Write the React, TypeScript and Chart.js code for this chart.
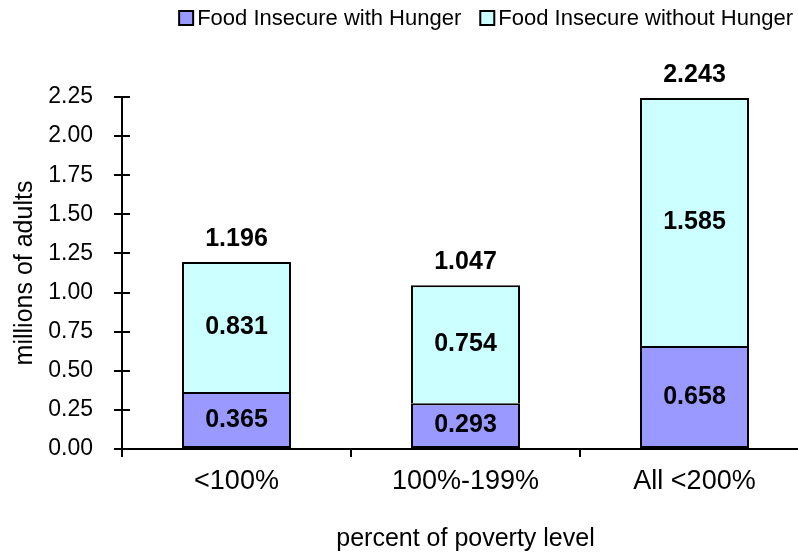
import React, { useEffect, useRef } from "react";
import { Chart, registerables } from "chart.js";

Chart.register(...registerables);

const categories = ["<100%", "100%-199%", "All <200%"];
const withHunger = [0.365, 0.293, 0.658];
const withoutHunger = [0.831, 0.754, 1.585];
const totals = [1.196, 1.047, 2.243];
const seriesNames = ["Food Insecure with Hunger", "Food Insecure without Hunger"];
const seriesColors = ["#9999FF", "#CCFFFF"];
const yMin = 0;
const yMax = 2.25;
const yStep = 0.25;

const FONT = "'Liberation Sans', Arial, Helvetica, sans-serif";

const innerTicksPlugin = {
  id: "innerTicks",
  afterDraw(chart: any) {
    const { ctx } = chart;
    const y = chart.scales.y;
    ctx.save();
    ctx.strokeStyle = "#000";
    ctx.lineWidth = 2;
    y.ticks.forEach((t: any) => {
      const py = Math.round(y.getPixelForValue(t.value));
      ctx.beginPath();
      ctx.moveTo(y.right, py);
      ctx.lineTo(y.right + 8, py);
      ctx.stroke();
    });
    ctx.restore();
  },
};

const labelsPlugin = {
  id: "valueLabels",
  afterDatasetsDraw(chart: any) {
    const { ctx } = chart;
    ctx.save();
    ctx.font = `bold 25px ${FONT}`;
    ctx.fillStyle = "#000";
    ctx.textAlign = "center";
    ctx.textBaseline = "middle";
    chart.data.datasets.forEach((ds: any, di: number) => {
      const meta = chart.getDatasetMeta(di);
      meta.data.forEach((bar: any, i: number) => {
        const v = ds.data[i];
        const cy = (bar.y + bar.base) / 2;
        ctx.fillText(Number(v).toFixed(3), bar.x, cy);
      });
    });
    const topMeta = chart.getDatasetMeta(chart.data.datasets.length - 1);
    topMeta.data.forEach((bar: any, i: number) => {
      ctx.fillText(totals[i].toFixed(3), bar.x, bar.y - 23);
    });
    ctx.restore();
  },
};

const legendPlugin = {
  id: "customLegend",
  afterDraw(chart: any) {
    const { ctx } = chart;
    ctx.save();
    ctx.font = `22px ${FONT}`;
    const box = 14;
    const gapBoxText = 4;
    const gapItems = 19;
    const widths = seriesNames.map((n) => ctx.measureText(n).width);
    const total =
      widths.reduce((a, b) => a + b, 0) +
      seriesNames.length * (box + gapBoxText) +
      gapItems * (seriesNames.length - 1);
    let x = 793 - total;
    const cy = 18;
    ctx.textBaseline = "middle";
    ctx.textAlign = "left";
    seriesNames.forEach((n, i) => {
      ctx.fillStyle = seriesColors[i];
      ctx.fillRect(x, cy - box / 2, box, box);
      ctx.strokeStyle = "#000";
      ctx.lineWidth = 2;
      ctx.strokeRect(x, cy - box / 2, box, box);
      ctx.fillStyle = "#000";
      ctx.fillText(n, x + box + gapBoxText, cy + 1);
      x += box + gapBoxText + widths[i] + gapItems;
    });
    ctx.restore();
  },
};

export default function App() {
  const ref = useRef<HTMLCanvasElement | null>(null);

  useEffect(() => {
    if (!ref.current) return;
    const chart = new Chart(ref.current, {
      type: "bar",
      data: {
        labels: categories,
        datasets: [
          {
            label: seriesNames[0],
            data: withHunger,
            backgroundColor: seriesColors[0],
            borderColor: "#000",
            borderWidth: 2,
            borderSkipped: false,
          },
          {
            label: seriesNames[1],
            data: withoutHunger,
            backgroundColor: seriesColors[1],
            borderColor: "#000",
            borderWidth: 2,
            borderSkipped: "bottom",
          },
        ],
      },
      options: {
        responsive: false,
        animation: false,
        devicePixelRatio: 1,
        layout: { padding: { top: 97, right: 3, bottom: 0, left: 0 } },
        datasets: {
          bar: { categoryPercentage: 1, barPercentage: 0.476 },
        },
        plugins: {
          legend: { display: false },
          tooltip: { enabled: false },
        },
        scales: {
          x: {
            stacked: true,
            offset: true,
            grid: {
              display: true,
              offset: true,
              drawOnChartArea: false,
              drawTicks: true,
              tickLength: 8,
              color: "#000",
              lineWidth: 2,
            },
            border: { display: true, color: "#000", width: 2 },
            ticks: {
              color: "#000",
              font: { family: FONT, size: 27 },
              padding: 8,
              maxRotation: 0,
            },
            title: {
              display: true,
              text: "percent of poverty level",
              color: "#000",
              font: { family: FONT, size: 25 },
              padding: { top: 0, bottom: 0 },
            },
            afterFit(scale: any) {
              scale.height = 105;
            },
          },
          y: {
            stacked: true,
            min: yMin,
            max: yMax,
            grid: {
              display: true,
              drawOnChartArea: false,
              drawTicks: true,
              tickLength: 8,
              color: "#000",
              lineWidth: 2,
            },
            border: { display: true, color: "#000", width: 2 },
            ticks: {
              stepSize: yStep,
              color: "#000",
              font: { family: FONT, size: 23 },
              padding: 21,
              callback: (v: any) => Number(v).toFixed(2),
            },
            title: {
              display: true,
              text: "millions of adults",
              color: "#000",
              font: { family: FONT, size: 25 },
              padding: { top: 10, bottom: 0 },
            },
            afterFit(scale: any) {
              scale.width = 122;
            },
          },
        },
      },
      plugins: [innerTicksPlugin, labelsPlugin, legendPlugin],
    });
    return () => chart.destroy();
  }, []);

  return (
    <div
      style={{
        position: "fixed",
        left: 0,
        top: 0,
        width: 798,
        height: 554,
        overflow: "hidden",
        background: "#fff",
      }}
    >
      <canvas ref={ref} width={812} height={554} style={{ display: "block", width: 812, height: 554 }} />
    </div>
  );
}
